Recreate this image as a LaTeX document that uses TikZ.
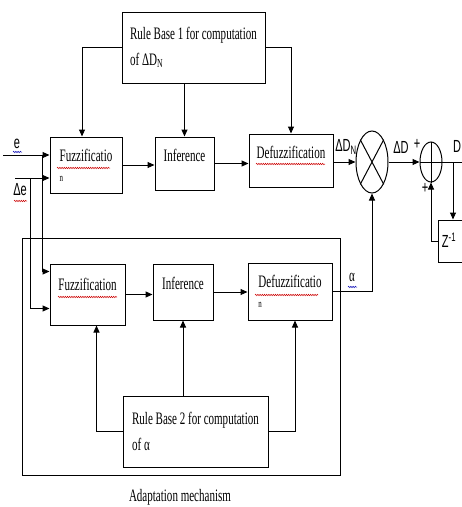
\documentclass[tikz,border=0pt]{standalone}
\usepackage{fontspec}
\setmainfont{Liberation Serif}[FakeStretch=0.63]
\newfontfamily\sigfont{Liberation Sans}[FakeStretch=0.63]
\usetikzlibrary{arrows.meta,shapes.geometric,decorations.pathmorphing}

\tikzset{every picture/.style={line width=1pt}}

\begin{document}
\begin{tikzpicture}[
            x=1pt,
            y=1pt,
            yscale=-1,
            xscale=1,
            every node/.style={text=black, font=\fontsize{17.5}{20}\selectfont},
            block/.style={draw, inner sep=0pt, align=left},
            upper/.style={text depth=17pt},
            rulefont/.style={font=\fontsize{17.5}{26}\selectfont},
            sig/.style={inner sep=0pt, font=\sigfont\fontsize{17.5}{20}\selectfont},
            junction/.style={draw, ellipse, inner sep=0pt},
            squiggle/.style={draw=red!80!black, line width=0.5pt, decorate, decoration={snake, amplitude=0.7pt, segment length=2.2pt}},
            >={Triangle[length=7pt,width=6pt]},
            line width=1pt
        ]
            \useasboundingbox (0,0) rectangle (462,507);

            % fuzzy controller
            \node[block, rulefont, minimum width=143pt, minimum height=71pt] (rb1) at (193.5,47.5) {Rule Base 1 for computation\\of ΔD\textsubscript{N}};
            \node[block, minimum width=72pt, minimum height=56pt] (fz1) at (86,165) {Fuzzificatio\\{\fontsize{11}{13}\selectfont n}};
            \node[block, upper, minimum width=59pt, minimum height=53pt] (inf1) at (184.5,163.5) {Inference};
            \node[block, upper, minimum width=84pt, minimum height=53pt] (dz1) at (291,160.5) {Defuzzification};

            % adaptation mechanism
            \node[draw, inner sep=0pt, minimum width=318pt, minimum height=237pt] (adapt) at (181,356.5) {};
            \node (adlbl) at (180,497) {Adaptation mechanism};
            \node[block, minimum width=75pt, minimum height=61pt] (fz2) at (87.5,294.5) {Fuzzification\\\phantom{n}};
            \node[block, upper, minimum width=60pt, minimum height=56pt] (inf2) at (183,292) {Inference};
            \node[block, minimum width=84pt, minimum height=57pt] (dz2) at (290,291.5) {Defuzzificatio\\{\fontsize{11}{13}\selectfont n}};
            \node[block, rulefont, minimum width=145pt, minimum height=71pt] (rb2) at (195.5,431.5) {Rule Base 2 for computation\\of α};

            % junctions and delay
            \node[junction, minimum width=32pt, minimum height=62pt] (mult) at (372,162) {};
            \draw (mult.north west) -- (mult.south east) (mult.north east) -- (mult.south west);
            \node[junction, minimum width=22pt, minimum height=40pt] (sum) at (431,162) {};
            \draw (sum.west) -- (sum.east) (sum.north) -- (sum.south);
            \node[block, minimum width=38pt, minimum height=42pt] (zb) at (457,241) {};
            \node[sig] (zt) at (449,240) {Z\textsuperscript{-1}};

            % signal labels
            \node[sig] (le) at (17,144) {e};
            \node[sig] (lde) at (20,190) {Δe};
            \node[sig] (ldn) at (346,147) {ΔD\textsubscript{N}};
            \node[sig] (ld) at (401,147) {ΔD};
            \node[sig] (lout) at (457,146) {D};
            \node[sig] (pa) at (417,144) {+};
            \node[sig] (pb) at (425,188) {+};
            \node (lal) at (352,277) {α};

            \coordinate (ein) at (3,155);
            \coordinate (dein) at (15,178);
            \coordinate (eb) at (42,155);
            \coordinate (deb) at (30,178);
            \coordinate (br) at (453,162);
            \coordinate (dout) at (462,162);

            % inputs
            \draw[->] (ein) -- (ein -| fz1.west);
            \draw[->] (dein) -- (dein -| fz1.west);
            \draw[->] (eb) |- ([yshift=8pt]fz2.north west);
            \draw[->] (deb) |- ([yshift=-17pt]fz2.south west);

            % rule base 1
            \draw[->] (rb1.west) -| ([xshift=-4pt]fz1.north);
            \draw[->] (inf1.north |- rb1.south) -- (inf1.north);
            \draw[->] (rb1.east) -| (dz1.north);

            % rule base 2
            \draw[->] (rb2.west) -| ([xshift=9pt]fz2.south);
            \draw[->] (inf2.south |- rb2.north) -- (inf2.south);
            \draw[->] (rb2.east) -| ([xshift=5pt]dz2.south);

            % chains
            \draw[->] (fz1.east) -- (fz1.east -| inf1.west);
            \draw[->] (inf1.east) -- (inf1.east -| dz1.west);
            \draw[->] (dz1.east |- mult) -- (mult.west);
            \draw[->] (fz2.east) -- (fz2.east -| inf2.west);
            \draw[->] (inf2.east) -- (inf2.east -| dz2.west);
            \draw[->] (dz2.east) -| (mult.south);
            \draw[->] (mult.east) -- (sum.west);
            \draw (sum.east) -- (dout);
            \draw[->] (br) -- (br |- zb.north);
            \draw[->] (zb.west) -| (sum.south);

            % spelling marks
            \draw[squiggle] (57,168) -- (110,168);
            \draw[squiggle] (256,164) -- (325,164);
            \draw[squiggle] (58,297) -- (117,297);
            \draw[squiggle] (255,295) -- (318,295);
            \draw[squiggle] (14,201) -- (27,201);
            \draw[squiggle, draw=blue!70!black] (13,152) -- (22,152);
            \draw[squiggle, draw=blue!70!black] (348,287) -- (357,287);
        \end{tikzpicture}
\end{document}
